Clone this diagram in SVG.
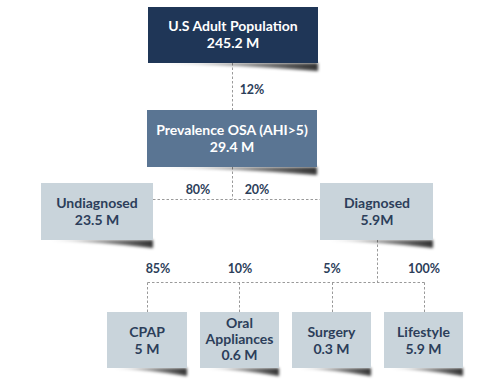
<svg xmlns="http://www.w3.org/2000/svg" width="500" height="388" viewBox="0 0 500 388">
<defs>
<filter id="blur" x="-20%" y="-100%" width="140%" height="300%"><feGaussianBlur stdDeviation="1.6"/></filter>
<linearGradient id="sg" x1="0" y1="0" x2="1" y2="0"><stop offset="0" stop-color="#000" stop-opacity="0.1"/><stop offset="1" stop-color="#000" stop-opacity="0.8"/></linearGradient>
<style>
.t{font-family:Lato,"Open Sans","Liberation Sans",sans-serif;font-weight:bold;text-anchor:middle}
.w{fill:#ffffff;font-size:14px}
.d{fill:#2c3e5a;font-size:14px}
.p{fill:#2c3e5a;font-size:12.5px}
.c{stroke:#9a9a9a;stroke-width:1;stroke-dasharray:2.5,2;fill:none}
.sh{fill:url(#sg);filter:url(#blur)}
.light{fill:#c9d4db}
</style>
</defs>
<rect width="500" height="388" fill="#ffffff"/>
<g id="connectors">
<path class="c" d="M232.5,63 V110"/>
<path class="c" d="M232.5,167 V199.5 M153,199.5 H320"/>
<path class="c" d="M377.5,240 V282.5 M147.5,282.5 H424.5 M147.5,282.5 V312 M239.5,282.5 V312 M332.5,282.5 V312 M424.5,282.5 V312"/>
<text class="t p" x="252" y="94">12%</text>
<text class="t p" x="198" y="194">80%</text>
<text class="t p" x="257" y="194">20%</text>
<text class="t p" x="158" y="273">85%</text>
<text class="t p" x="240" y="273">10%</text>
<text class="t p" x="332" y="273">5%</text>
<text class="t p" x="424" y="273">100%</text>
</g>
<g id="n-population">
<path class="sh" d="M160,63 Q240,65 318,71 L318,63 Z"/>
<rect x="148" y="7" width="170" height="56" fill="#1f3657"/>
<text class="t w" x="233" y="31">U.S Adult Population</text>
<text class="t w" x="233" y="48">245.2 M</text>
</g>
<g id="n-prevalence">
<path class="sh" d="M160,167 Q240,169 317,175 L317,167 Z"/>
<rect x="147" y="110" width="170" height="57" fill="#5a7593"/>
<text class="t w" x="232" y="135">Prevalence OSA (AHI&gt;5)</text>
<text class="t w" x="232" y="152">29.4 M</text>
</g>
<g id="n-undiagnosed">
<path class="sh" d="M50,240 Q100,242 153,248 L153,240 Z"/>
<rect x="41" y="183" width="112" height="57" class="light"/>
<text class="t d" x="97" y="208">Undiagnosed</text>
<text class="t d" x="97" y="225">23.5 M</text>
</g>
<g id="n-diagnosed">
<path class="sh" d="M329,240 Q380,242 433,248 L433,240 Z"/>
<rect x="320" y="183" width="113" height="57" class="light"/>
<text class="t d" x="377" y="208">Diagnosed</text>
<text class="t d" x="377" y="225">5.9M</text>
</g>
<g id="n-cpap">
<path class="sh" d="M114,368 Q150,370 187,376 L187,368 Z"/>
<rect x="107" y="312" width="80" height="56" class="light"/>
<text class="t d" x="147" y="337">CPAP</text>
<text class="t d" x="147" y="354">5 M</text>
</g>
<g id="n-oral">
<path class="sh" d="M207,368 Q243,370 279,376 L279,368 Z"/>
<rect x="200" y="312" width="79" height="56" class="light"/>
<text class="t d" x="239.5" y="328">Oral</text>
<text class="t d" x="239.5" y="344">Appliances</text>
<text class="t d" x="239.5" y="360">0.6 M</text>
</g>
<g id="n-surgery">
<path class="sh" d="M299,368 Q335,370 371,376 L371,368 Z"/>
<rect x="292" y="312" width="79" height="56" class="light"/>
<text class="t d" x="331.5" y="337">Surgery</text>
<text class="t d" x="331.5" y="354">0.3 M</text>
</g>
<g id="n-lifestyle">
<path class="sh" d="M391,368 Q427,370 463,376 L463,368 Z"/>
<rect x="384" y="312" width="79" height="56" class="light"/>
<text class="t d" x="423.5" y="337">Lifestyle</text>
<text class="t d" x="423.5" y="354">5.9 M</text>
</g>
</svg>
